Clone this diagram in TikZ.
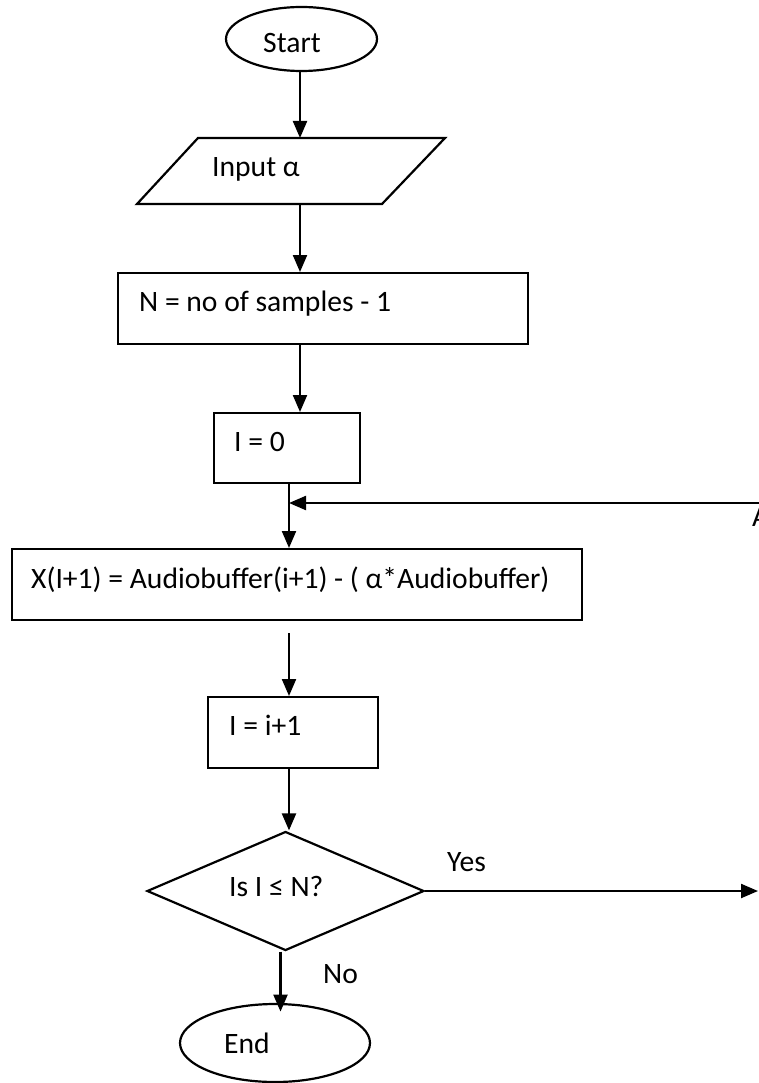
\documentclass[tikz,border=0pt]{standalone}
\usepackage{fontspec}
\setmainfont{Carlito}
\usepackage{tikz}
\usetikzlibrary{shapes.geometric,arrows.meta}

\begin{document}
\begin{tikzpicture}[x=1pt, y=-1pt,
        font=\fontsize{29.6}{34}\selectfont,
        line/.style={black, line width=2.2pt},
        arr/.style={line, -{Triangle[length=17pt,width=14pt]}},
        box/.style={line, draw, rectangle, inner sep=0pt, anchor=north west},
        term/.style={line, draw, ellipse, inner sep=0pt},
        lbl/.style={anchor=base west, inner sep=0pt}]
        \useasboundingbox (0,0) rectangle (758,1083);
        % terminals
        \node[term, minimum width=151pt, minimum height=64pt] (start) at (301.5,39) {};
        \node[lbl] (starttxt) at (263,53) {Start};
        \node[term, minimum width=190pt, minimum height=78pt] (stop) at (275,1043) {};
        \node[lbl] (stoptxt) at (224,1053) {End};
        % input
        \draw[line] (198,138) -- (445,138) -- (382,204) -- (137,204) -- cycle;
        \coordinate (intop) at (300,138); \coordinate (inbot) at (300,205);
        \node[lbl] (inputtxt) at (212,177) {Input α};
        % process boxes
        \node[box, minimum width=410pt, minimum height=71pt] (nbox) at (117,272) {};
        \node[lbl] (ntxt) at (139,311) {N = no of samples - 1};
        \node[box, minimum width=146pt, minimum height=70pt] (izero) at (213,412) {};
        \node[lbl] (izerotxt) at (234,451) {I = 0};
        \node[box, minimum width=570pt, minimum height=71pt] (xbox) at (11,548) {};
        \node[lbl] (xtxt) at (31,588) {X(I+1) = Audiobuffer(i+1) - ( α*Audiobuffer)};
        \node[box, minimum width=170pt, minimum height=71pt] (iinc) at (207,696) {};
        \node[lbl] (iinctxt) at (229,735) {I = i+1};
        % decision
        \node[line, draw, diamond, inner sep=0pt, minimum width=277pt, minimum height=119pt] (test) at (285.5,891) {};
        \node[lbl] (testtxt) at (229,896) {Is I ≤ N?};
        \node[lbl] (yestxt) at (447,871) {Yes};
        \node[lbl] (notxt) at (323,983) {No};
        % connector to A
        \coordinate (loopx) at (289,503);
        \coordinate (ain) at (760,503);
        \coordinate (aout) at (758,891);
        \node[lbl] (aref) at (752,526) {A};
        % arrows
        \draw[arr] (intop |- start.south) -- (intop);
        \draw[arr] (inbot) -- (inbot |- nbox.north);
        \draw[arr] (inbot |- nbox.south) -- (inbot |- izero.north);
        \draw[arr] (izero.south -| loopx) -- (loopx |- xbox.north);
        \draw[arr] (ain) -- (loopx);
        \draw[arr] ([yshift=-12pt]xbox.south -| loopx) -- (loopx |- iinc.north);
        \draw[arr] (iinc.south -| loopx) -- (loopx |- test.north);
        \draw[arr] (test.east) -- (aout);
        \draw[arr] ([xshift=-5pt]test.south) -- ++(0,60);
\end{tikzpicture}
\end{document}
